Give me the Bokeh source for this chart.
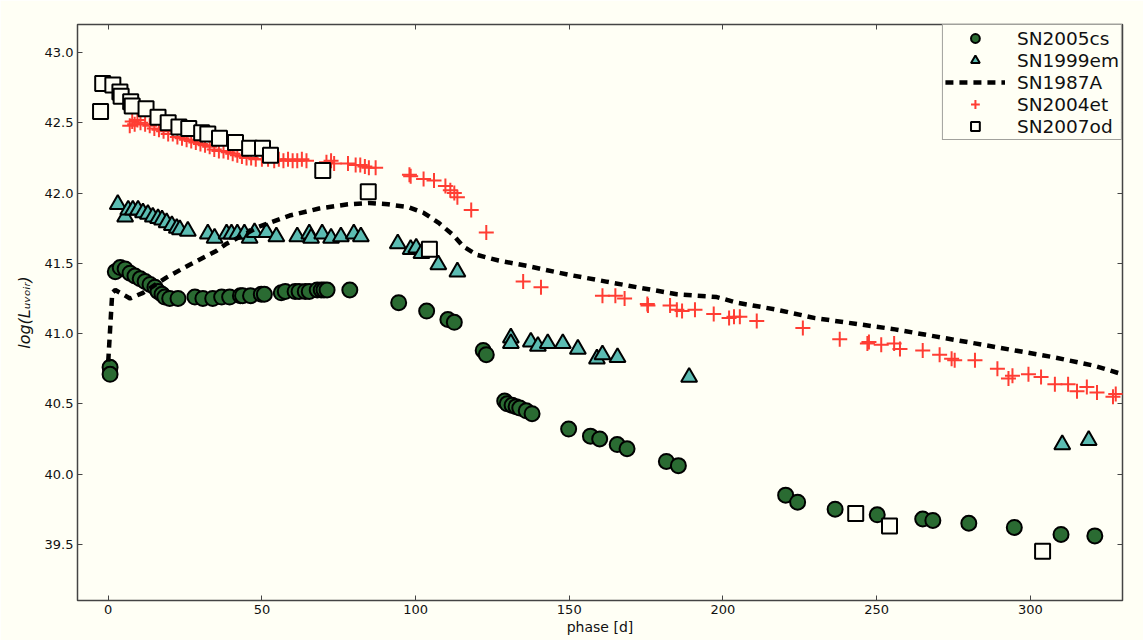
from bokeh.plotting import figure
from bokeh.models import (LinearAxis, FixedTicker, PrintfTickFormatter, CustomJSTickFormatter,
                          Legend, LegendItem, Range1d)
from bokeh.embed import file_html
from bokeh.resources import INLINE

# ---- data ----
cs_phase = [0.6, 0.6, 2.3, 3.9, 5.5, 7.1, 8.7, 10.4, 12.0, 13.6, 15.2, 16.2, 17.5, 18.4, 20.0, 22.7,
            28.2, 30.8, 34.0, 36.9, 39.5, 43.0, 43.7, 46.3, 49.8, 50.8, 56.3, 57.6, 60.8, 62.1, 64.1,
            65.4, 68.0, 69.3, 70.2, 71.2, 78.6, 94.5, 103.6, 110.5, 112.6, 122.0, 123.0, 129.0, 129.8,
            131.4, 132.7, 133.9, 136.0, 137.9, 149.8, 156.9, 159.9, 165.6, 168.8, 181.6, 185.5, 220.4,
            224.3, 236.5, 250.2, 265.0, 268.3, 280.0, 294.8, 310.0, 321.0]
cs_lum = [40.76, 40.71, 41.44, 41.47, 41.46, 41.43, 41.41, 41.39, 41.37, 41.35, 41.33, 41.30, 41.28,
          41.26, 41.25, 41.25, 41.26, 41.25, 41.25, 41.26, 41.26, 41.27, 41.27, 41.27, 41.28, 41.28,
          41.29, 41.30, 41.30, 41.30, 41.30, 41.30, 41.31, 41.31, 41.31, 41.31, 41.31, 41.22, 41.16,
          41.10, 41.08, 40.88, 40.85, 40.52, 40.50, 40.49, 40.48, 40.47, 40.45, 40.43, 40.32, 40.27,
          40.25, 40.21, 40.18, 40.09, 40.06, 39.85, 39.80, 39.75, 39.71, 39.68, 39.67, 39.65, 39.62,
          39.57, 39.56]

em_phase = [3.1, 5.5, 6.5, 8.0, 9.7, 11.3, 12.9, 14.5, 16.2, 17.5, 19.0, 20.7, 22.3, 23.3, 25.9,
            32.4, 34.6, 38.5, 40.1, 42.0, 44.3, 46.0, 47.6, 51.5, 54.7, 61.5, 65.4, 66.0, 69.6, 72.5,
            75.7, 79.9, 82.2, 94.2, 98.4, 100.2, 101.9, 107.4, 113.6, 131.0, 131.0, 137.5, 139.8,
            143.0, 147.9, 152.8, 159.0, 160.8, 165.7, 189.0, 310.4, 319.0]
em_lum = [41.92, 41.83, 41.88, 41.88, 41.88, 41.86, 41.85, 41.83, 41.82, 41.81, 41.79, 41.77, 41.75,
          41.74, 41.73, 41.71, 41.68, 41.71, 41.71, 41.71, 41.71, 41.68, 41.72, 41.72, 41.69, 41.69,
          41.71, 41.68, 41.71, 41.68, 41.69, 41.71, 41.69, 41.64, 41.60, 41.61, 41.57, 41.49, 41.44,
          40.97, 40.93, 40.94, 40.91, 40.93, 40.93, 40.89, 40.82, 40.85, 40.83, 40.69, 40.21, 40.24]

a87_phase = [0.0, 1.3, 2.3, 3.9, 7.1, 11.3, 19.0, 26.5, 35.3, 38.5, 49.0, 59.0, 68.6, 78.0, 85.0, 91.0,
             97.7, 102.6, 107.4, 112.3, 115.5, 120.0, 127.0, 136.6, 149.5, 162.0, 172.0, 185.0, 198.0,
             204.5, 217.5, 230.0, 243.0, 256.0, 269.0, 282.0, 295.0, 308.0, 321.0, 330.0]
a87_lum = [40.80, 41.29, 41.31, 41.29, 41.25, 41.29, 41.40, 41.49, 41.59, 41.64, 41.76, 41.84, 41.89,
           41.92, 41.93, 41.92, 41.90, 41.86, 41.79, 41.70, 41.62, 41.56, 41.52, 41.48, 41.42, 41.37,
           41.33, 41.28, 41.26, 41.22, 41.17, 41.11, 41.07, 41.03, 40.98, 40.93, 40.88, 40.83, 40.77,
           40.71]

et_phase = [7.0, 7.8, 8.6, 9.5, 10.5, 12.0, 13.5, 15.0, 16.5, 18.0, 19.5, 21.0, 22.5, 24.0, 25.5, 27.0,
            28.5, 30.0, 31.5, 33.0, 34.5, 36.0, 37.5, 39.0, 40.5, 42.0, 43.5, 45.0, 46.5, 48.0, 50.0,
            52.0, 54.0, 55.5, 57.0, 58.5, 60.0, 61.5, 63.0, 64.5, 71.0, 72.5, 73.5, 78.0, 80.5, 82.0,
            83.5, 84.8, 87.0, 98.0, 98.4, 102.6, 106.0, 109.7, 111.3, 112.6, 113.6, 118.1, 123.0,
            135.0, 140.8, 160.8, 165.0, 168.0, 175.4, 175.6, 182.8, 185.0, 186.7, 190.9, 197.0, 202.0,
            203.6, 205.5, 211.0, 226.0, 238.0, 247.0, 247.5, 251.5, 255.7, 257.6, 265.0, 270.5, 274.4,
            275.4, 282.0, 289.3, 292.9, 294.2, 299.4, 303.5, 308.0, 312.3, 315.2, 318.4, 321.7, 326.9,
            327.8]
et_lum = [42.48, 42.51, 42.49, 42.52, 42.50, 42.49, 42.48, 42.46, 42.45, 42.44, 42.42, 42.42, 42.40,
          42.39, 42.38, 42.37, 42.36, 42.35, 42.34, 42.33, 42.31, 42.30, 42.30, 42.29, 42.28, 42.27,
          42.26, 42.25, 42.25, 42.24, 42.24, 42.24, 42.23, 42.24, 42.23, 42.24, 42.23, 42.23, 42.24,
          42.23, 42.22, 42.23, 42.21, 42.21, 42.20, 42.20, 42.19, 42.18, 42.18, 42.13, 42.12, 42.10,
          42.09, 42.05, 42.02, 42.00, 41.97, 41.88, 41.72, 41.37, 41.33, 41.27, 41.27, 41.25, 41.21,
          41.20, 41.20, 41.17, 41.16, 41.17, 41.14, 41.11, 41.12, 41.12, 41.09, 41.04, 40.96, 40.93,
          40.94, 40.92, 40.93, 40.89, 40.88, 40.85, 40.82, 40.81, 40.81, 40.75, 40.68, 40.70, 40.71,
          40.69, 40.64, 40.64, 40.59, 40.62, 40.58, 40.55, 40.57]

od_phase = [-2.5, -1.8, 1.5, 3.8, 4.2, 7.3, 7.8, 12.3, 16.2, 19.5, 23.0, 26.2, 30.4, 32.4, 36.2, 41.4,
            46.0, 50.2, 52.8, 69.8, 84.6, 104.5, 243.2, 254.2, 304.0]
od_lum = [42.58, 42.78, 42.77, 42.72, 42.69, 42.65, 42.62, 42.60, 42.54, 42.50, 42.47, 42.46, 42.43,
          42.42, 42.39, 42.36, 42.32, 42.32, 42.27, 42.16, 42.01, 41.60, 39.72, 39.63, 39.45]

x_ticks = [0, 50, 100, 150, 200, 250, 300]
y_ticks = [39.5, 40.0, 40.5, 41.0, 41.5, 42.0, 42.5, 43.0]

BG = "#fffff5"
FONT = "DejaVu Sans"
SPINE = "#444444"

p = figure(width=1143, height=640, output_backend="svg", toolbar_location=None,
           x_range=Range1d(-10, 330), y_range=Range1d(39.1, 43.2),
           min_border_left=77, min_border_right=21, min_border_top=24, min_border_bottom=40)
p.background_fill_color = BG
p.border_fill_color = BG
p.outline_line_color = SPINE
p.outline_line_width = 1.5
p.grid.visible = False

for ax in p.xaxis + p.yaxis:
    ax.axis_line_color = None
    ax.major_tick_in = 5
    ax.major_tick_out = 0
    ax.minor_tick_line_color = None
    ax.major_tick_line_color = SPINE
    ax.major_label_text_font = FONT
    ax.major_label_text_font_size = "13px"
    ax.major_label_text_color = "#111111"
    ax.axis_label_text_font = FONT
    ax.axis_label_text_font_size = "14px"
    ax.axis_label_text_color = "#111111"
    ax.axis_label_text_font_style = "normal"
    ax.major_label_standoff = 4

p.xaxis.ticker = FixedTicker(ticks=x_ticks)
p.yaxis.ticker = FixedTicker(ticks=y_ticks)
p.yaxis.formatter = PrintfTickFormatter(format="%.1f")
p.xaxis.axis_label = "phase [d]"
p.xaxis.axis_label_standoff = 2
p.yaxis.axis_label = "log(L\u1d64\u1d65\u2092\u1d62\u1d63)"
p.yaxis.axis_label_text_font_style = "italic"
p.yaxis.axis_label_text_font_size = "16px"
p.yaxis.axis_label_standoff = 8

blank = CustomJSTickFormatter(code="return ''")
top = LinearAxis(ticker=FixedTicker(ticks=x_ticks), formatter=blank,
                 major_tick_in=5, major_tick_out=0, minor_tick_line_color=None,
                 axis_line_color=None, major_tick_line_color=SPINE, major_label_standoff=0)
right = LinearAxis(ticker=FixedTicker(ticks=y_ticks), formatter=blank,
                   major_tick_in=5, major_tick_out=0, minor_tick_line_color=None,
                   axis_line_color=None, major_tick_line_color=SPINE, major_label_standoff=0)
p.add_layout(top, "above")
p.add_layout(right, "right")

r_cs = p.scatter(cs_phase, cs_lum, marker="circle", size=15, fill_color="#2a6b32",
                 line_color="black", line_width=2)
r_em = p.scatter(em_phase, em_lum, marker="triangle", size=16, fill_color="#5bbcb2",
                 line_color="black", line_width=2)
r_87 = p.line(a87_phase, a87_lum, line_color="black", line_width=4.5, line_dash="8 6")
r_et = p.scatter(et_phase, et_lum, marker="cross", size=15, line_color="#ff3d33", line_width=2)
r_od = p.scatter(od_phase, od_lum, marker="square", size=15, fill_color=BG,
                 line_color="black", line_width=2)

legend = Legend(items=[
    LegendItem(label="SN2005cs", renderers=[r_cs]),
    LegendItem(label="SN1999em", renderers=[r_em]),
    LegendItem(label="SN1987A", renderers=[r_87]),
    LegendItem(label="SN2004et", renderers=[r_et]),
    LegendItem(label="SN2007od", renderers=[r_od]),
], location="top_right")
legend.margin = 0
legend.padding = 2
legend.spacing = 0
legend.glyph_width = 60
legend.glyph_height = 22
legend.label_height = 20
legend.label_standoff = 12
legend.label_text_font = FONT
legend.label_text_font_size = "18.5px"
legend.label_text_color = "#111111"
legend.background_fill_color = BG
legend.background_fill_alpha = 1.0
legend.border_line_color = SPINE
legend.border_line_width = 1
p.add_layout(legend, "center")

open("out.html", "w").write(file_html(p, INLINE))
